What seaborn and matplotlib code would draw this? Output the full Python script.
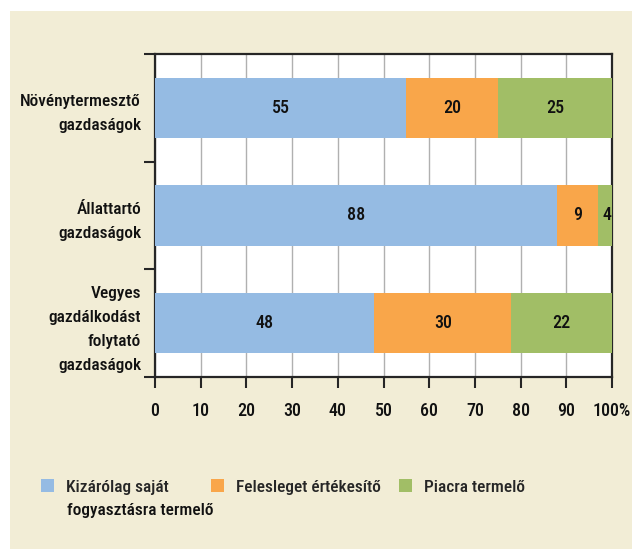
import matplotlib
matplotlib.use("Agg")
import matplotlib.pyplot as plt
import matplotlib.patches as mpatches
import seaborn as sns
import numpy as np
import pandas as pd

# === DATA ===
categories = ["Növénytermesztő\ngazdaságok", "Állattartó\ngazdaságok",
              "Vegyes\ngazdálkodást\nfolytató\ngazdaságok"]
series_names = ["Kizárólag saját", "Felesleget értékesítő", "Piacra termelő"]
own_use = [55, 88, 48]
surplus = [20, 9, 30]
market = [25, 4, 22]
x_ticks = [0, 10, 20, 30, 40, 50, 60, 70, 80, 90, 100]
x_labels = ["0", "10", "20", "30", "40", "50", "60", "70", "80", "90", "100%"]

colors = ["#95bbe3", "#f9a64a", "#a1be66"]
BG = "#f2edd6"
DARK = "#262626"
TXT = "#111111"
W = "medium"

sns.set_style("white")
plt.rcParams["font.family"] = ["Roboto Condensed", "Liberation Sans", "DejaVu Sans"]

df = pd.DataFrame({"cat": categories, "own": own_use, "surplus": surplus, "market": market})
df["c1"] = df["own"]
df["c2"] = df["own"] + df["surplus"]
df["c3"] = df["c2"] + df["market"]

fig = plt.figure(figsize=(6.32, 5.49), dpi=100, facecolor="white")
fig.patches.append(mpatches.Rectangle((10 / 632, 0), 1, 1 - 11 / 549, transform=fig.transFigure,
                                      facecolor=BG, edgecolor="none", zorder=-10))
ax = fig.add_axes([155 / 632, 1 - 377 / 549, (612 - 155) / 632, (377 - 54) / 549])
ax.set_facecolor("white")

# stacked bars: draw cumulative widths from the back
for col, c in zip(["c3", "c2", "c1"], colors[::-1]):
    sns.barplot(data=df, x=col, y="cat", orient="h", color=c, width=0.56,
                saturation=1, ax=ax, zorder=3, linewidth=0)

# segment labels
for i in range(len(categories)):
    starts = [0, df["c1"][i], df["c2"][i]]
    vals = [own_use[i], surplus[i], market[i]]
    for s, v in zip(starts, vals):
        ax.text(s + v / 2, i, str(v), ha="center", va="center", fontsize=13,
                fontweight=W, color=TXT, zorder=5)

ax.set_xlim(0, 100)
ax.set_ylim(2.5, -0.5)
ax.set_xticks(x_ticks)
ax.set_xticklabels(x_labels, fontsize=13, fontweight=W, color=TXT)
ax.set_yticks([-0.5, 0.5, 1.5, 2.5])
ax.set_yticklabels([])
ax.set_yticks(range(len(categories)), minor=True)
ax.set_yticklabels(categories, minor=True, fontsize=12.5, fontweight=W, color=TXT)
ax.tick_params(axis="y", which="major", direction="out", length=8, width=1.5, color=DARK, left=True)
ax.tick_params(axis="y", which="minor", length=0, pad=10)
ax.tick_params(axis="x", direction="out", length=8, width=1.5, color=DARK, bottom=True, pad=10)
ax.xaxis.grid(True, color="#b0b0b0", linewidth=1.0, zorder=0)
ax.yaxis.grid(False)
ax.set_axisbelow(True)
ax.set_xlabel("")
ax.set_ylabel("")
for sp in ax.spines.values():
    sp.set_visible(True)
    sp.set_color(DARK)
    sp.set_linewidth(1.6)

# y labels: more space between the lines, right aligned
for t in ax.yaxis.get_minorticklabels():
    t.set_linespacing(1.75)
    t.set_multialignment("right")

# legend, one entry per column
handle_x = [41, 211, 399]
for name, c, hx in zip(series_names, colors, handle_x):
    h = mpatches.Patch(facecolor=c, edgecolor="none")
    fig.legend(handles=[h], labels=[name], loc="upper left",
               bbox_to_anchor=(hx / 632, 1 - 479 / 549), frameon=False,
               prop={"size": 12.5, "weight": W}, handlelength=0.75, handleheight=0.8,
               handletextpad=0.7, borderpad=0, borderaxespad=0, labelspacing=0)
fig.text(67 / 632, 1 - 511 / 549, "fogyasztásra termelő", fontsize=12.5, fontweight=W,
         color=TXT, ha="left", va="center")

fig.savefig("out.png", dpi=100, facecolor=fig.get_facecolor())
